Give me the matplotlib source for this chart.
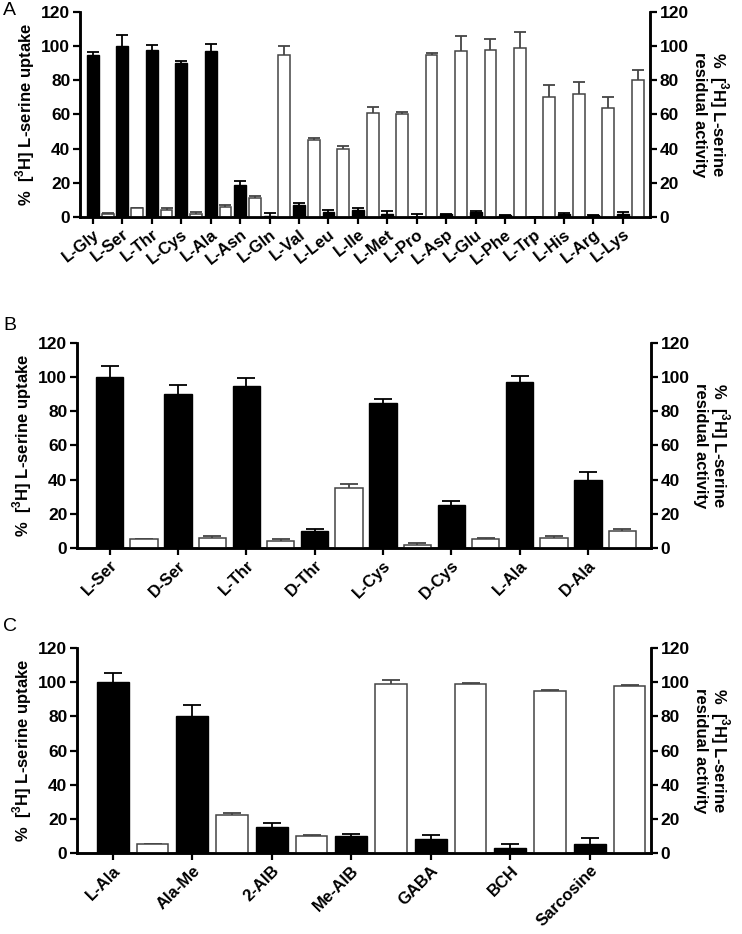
import matplotlib
matplotlib.use("Agg")
import matplotlib.pyplot as plt
import numpy as np

plt.rcParams['font.family'] = ['Liberation Sans', 'DejaVu Sans']
plt.rcParams['mathtext.fontset'] = 'custom'
plt.rcParams['mathtext.rm'] = 'Liberation Sans'
plt.rcParams['mathtext.bf'] = 'Liberation Sans:bold'

# ---------------- Data ----------------
catA = ['L-Gly', 'L-Ser', 'L-Thr', 'L-Cys', 'L-Ala', 'L-Asn', 'L-Gln', 'L-Val', 'L-Leu', 'L-Ile',
        'L-Met', 'L-Pro', 'L-Asp', 'L-Glu', 'L-Phe', 'L-Trp', 'L-His', 'L-Arg', 'L-Lys']
uptakeA = [95, 100, 98, 90, 97, 19, 0.5, 7, 3, 4, 2, 0, 1.5, 3, 1, 0, 2, 1, 2]
uptakeA_err = [1.5, 6.5, 2.5, 1.5, 4, 2, 2, 1, 1, 1.5, 1.5, 1.5, 0.5, 0.5, 0.3, 0, 0.5, 0.3, 1]
residA = [2, 5, 4, 2, 6, 11, 95, 45, 40, 61, 60, 95, 97, 98, 99, 70, 72, 64, 80]
residA_err = [0.5, 0.5, 1, 1, 1, 1, 5, 1.5, 1.5, 3.5, 1.5, 1, 9, 6, 9, 7, 7, 6, 6]

catB = ['L-Ser', 'D-Ser', 'L-Thr', 'D-Thr', 'L-Cys', 'D-Cys', 'L-Ala', 'D-Ala']
uptakeB = [100, 90, 95, 10, 85, 25, 97, 40]
uptakeB_err = [6.5, 5.5, 4.5, 1.2, 2, 2.5, 3.5, 4.5]
residB = [5, 6, 4, 35, 2, 5, 6, 10]
residB_err = [0.5, 0.8, 1, 2.5, 1, 0.6, 0.8, 1.2]

catC = ['L-Ala', 'Ala-Me', '2-AIB', 'Me-AIB', 'GABA', 'BCH', 'Sarcosine']
uptakeC = [100, 80, 15, 10, 8, 3, 5]
uptakeC_err = [5.5, 6.5, 2.5, 1, 2.5, 2.5, 4]
residC = [5, 22, 10, 99, 99, 95, 98]
residC_err = [0.5, 1.5, 0.5, 2, 0.7, 0.5, 0.5]

yticks = [0, 20, 40, 60, 80, 100, 120]
left_label = r'%  [$^{\mathbf{3}}$H] L-serine uptake'
right_label = '%  [$^{\\mathbf{3}}$H] L-serine\nresidual activity'

fig = plt.figure(figsize=(7.42, 9.34), dpi=100)


def upper_errorbar(a, x, y, err, color, capsize):
    eb = a.errorbar(x, y, yerr=[np.zeros(len(y)), err], fmt='none', ecolor=color,
                    elinewidth=1.3, capsize=capsize, capthick=1.3, zorder=1)
    caps = eb[1]
    if len(caps) == 2:
        caps[0].set_visible(False)
    return eb


def panel(rect, cats, up, up_err, res, res_err, xlim, rot, capsize, letter, letter_y):
    ax = fig.add_axes(rect)
    ax2 = ax.twinx()
    x = np.arange(len(cats))
    w = 0.4
    upper_errorbar(ax, x, up, up_err, 'black', capsize)
    ax.bar(x, up, width=w, color='black', edgecolor='black', linewidth=1, zorder=2)
    upper_errorbar(ax2, x + 0.5, res, res_err, '#444444', capsize)
    ax2.bar(x + 0.5, res, width=w, color='white', edgecolor='#444444', linewidth=1.1, zorder=2)
    for a in (ax, ax2):
        a.set_ylim(0, 120)
        a.set_yticks(yticks)
        a.set_xlim(*xlim)
        a.spines['top'].set_visible(False)
        for s in ('left', 'right', 'bottom'):
            a.spines[s].set_linewidth(1.8)
        a.tick_params(axis='both', width=1.6, length=5, pad=2, labelsize=12.5)
        for lab in a.get_yticklabels():
            lab.set_fontweight('bold')
    ax.set_xticks(x)
    ax.set_xticklabels(cats, rotation=rot, ha='right', rotation_mode='anchor',
                       fontweight='bold', fontsize=12)
    ax.set_ylabel(left_label, fontsize=12, fontweight='bold', labelpad=3)
    ax2.set_ylabel(right_label, fontsize=12, fontweight='bold', rotation=270,
                   labelpad=30, linespacing=1.0)
    fig.text(0.004, letter_y, letter, fontsize=14, va='top', ha='left')
    return ax, ax2


panel([0.1078, 0.7677, 0.7682, 0.2195], catA, uptakeA, uptakeA_err, residA, residA_err,
      (-0.44, 18.92), 38, 4, 'A', 0.998)
panel([0.1038, 0.4133, 0.7736, 0.2195], catB, uptakeB, uptakeB_err, residB, residB_err,
      (-0.48, 7.92), 45, 6.5, 'B', 0.661)
panel([0.1038, 0.0867, 0.7736, 0.2195], catC, uptakeC, uptakeC_err, residC, residC_err,
      (-0.45, 6.77), 45, 6.5, 'C', 0.338)

fig.savefig('out.png', dpi=100)
